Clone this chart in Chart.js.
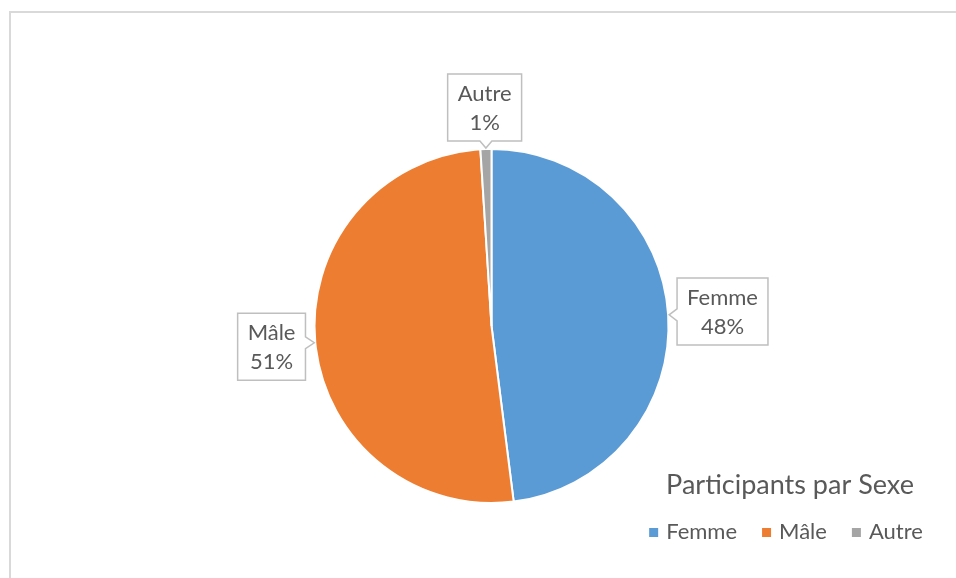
<!DOCTYPE html>
<html lang="fr">
<head>
<meta charset="utf-8">
<title>Participants par Sexe</title>
<script src="https://cdn.jsdelivr.net/npm/chart.js@4.4.1/dist/chart.umd.min.js"></script>
<style>
    html, body { margin: 0; padding: 0; background: #fff; overflow: hidden; }
    #frame { position: absolute; left: 9px; top: 11px; width: 1000px; height: 700px; border: 2px solid #d9d9d9; }
    #myChart { position: absolute; left: 0; top: 0; }
</style>
</head>
<body>
<div id="frame"></div>
<canvas id="myChart" width="956" height="578"></canvas>
<script>
const labels = ['Femme', 'Mâle', 'Autre'];
const percents = [48, 51, 1];
const colors = ['#5B9BD5', '#ED7D31', '#A5A5A5'];
const chartTitle = 'Participants par Sexe';

const FONT = 'Lato, "Liberation Sans", sans-serif';
const TEXT_COLOR = '#595959';

function clamp(v, lo, hi) {
    return Math.max(lo, Math.min(hi, v));
}

// Excel-like callout boxes for each slice
const calloutLabels = {
    id: 'calloutLabels',
    afterDatasetsDraw(chart) {
        const ctx = chart.ctx;
        const meta = chart.getDatasetMeta(0);
        ctx.save();
        ctx.font = '22px ' + FONT;
        meta.data.forEach((arc, i) => {
            const p = arc.getProps(['x', 'y', 'startAngle', 'endAngle', 'outerRadius'], true);
            const mid = (p.startAngle + p.endAngle) / 2;
            const dx = Math.cos(mid), dy = Math.sin(mid);
            const lines = [labels[i], percents[i] + '%'];
            const textW = Math.max(...lines.map(t => ctx.measureText(t).width));
            const w = textW + 20, h = 67;
            const dist = p.outerRadius + 7 + Math.abs(dx) * w / 2 + Math.abs(dy) * h / 2;
            const cx = p.x + dx * dist, cy = p.y + dy * dist;
            const left = cx - w / 2, top = cy - h / 2, right = cx + w / 2, bottom = cy + h / 2;
            const tipX = p.x + dx * (p.outerRadius + 1), tipY = p.y + dy * (p.outerRadius + 1);

            let side;
            if (Math.abs(dx) * h > Math.abs(dy) * w) side = dx > 0 ? 'left' : 'right';
            else side = dy > 0 ? 'top' : 'bottom';

            const bx = clamp(tipX, left + 9, right - 9);
            const by = clamp(tipY, top + 9, bottom - 9);

            ctx.beginPath();
            ctx.moveTo(left, top);
            if (side === 'top') { ctx.lineTo(bx - 6, top); ctx.lineTo(tipX, tipY); ctx.lineTo(bx + 6, top); }
            ctx.lineTo(right, top);
            if (side === 'right') { ctx.lineTo(right, by - 6); ctx.lineTo(tipX, tipY); ctx.lineTo(right, by + 6); }
            ctx.lineTo(right, bottom);
            if (side === 'bottom') { ctx.lineTo(bx + 6, bottom); ctx.lineTo(tipX, tipY); ctx.lineTo(bx - 6, bottom); }
            ctx.lineTo(left, bottom);
            if (side === 'left') { ctx.lineTo(left, by + 6); ctx.lineTo(tipX, tipY); ctx.lineTo(left, by - 6); }
            ctx.closePath();
            ctx.fillStyle = '#ffffff';
            ctx.fill();
            ctx.strokeStyle = '#bfbfbf';
            ctx.lineWidth = 1.5;
            ctx.stroke();

            ctx.fillStyle = TEXT_COLOR;
            ctx.textAlign = 'center';
            ctx.textBaseline = 'middle';
            ctx.fillText(lines[0], cx, cy - 14);
            ctx.fillText(lines[1], cx, cy + 15);
        });
        ctx.restore();
    }
};

// title + legend in the lower right corner, over the chart area
const titleAndLegend = {
    id: 'titleAndLegend',
    afterDraw(chart) {
        const ctx = chart.ctx;
        ctx.save();
        ctx.fillStyle = TEXT_COLOR;
        ctx.textBaseline = 'alphabetic';
        ctx.textAlign = 'center';
        ctx.font = '27px ' + FONT;
        ctx.fillText(chartTitle, 790, 494);

        ctx.font = '22px ' + FONT;
        ctx.textAlign = 'left';
        const box = 9, gapText = 8, gapItem = 25;
        const widths = labels.map(l => box + gapText + ctx.measureText(l).width);
        const total = widths.reduce((a, b) => a + b, 0) + gapItem * (labels.length - 1);
        let x = 786 - total / 2;
        labels.forEach((l, i) => {
            ctx.fillStyle = colors[i];
            ctx.fillRect(x, 528, box, box);
            ctx.fillStyle = TEXT_COLOR;
            ctx.fillText(l, x + box + gapText, 539);
            x += widths[i] + gapItem;
        });
        ctx.restore();
    }
};

const ctx = document.getElementById('myChart').getContext('2d');

window.myChart = new Chart(ctx, {
    type: 'pie',
    data: {
        labels: labels,
        datasets: [{
            data: percents,
            backgroundColor: colors,
            borderColor: '#ffffff',
            borderWidth: 2
        }]
    },
    options: {
        responsive: false,
        animation: false,
        radius: 177,
        layout: {
            padding: { left: 100, right: 73, top: 140, bottom: 66 }
        },
        plugins: {
            legend: { display: false },
            title: { display: false },
            tooltip: { enabled: false }
        }
    },
    plugins: [calloutLabels, titleAndLegend]
});
</script>
</body>
</html>
